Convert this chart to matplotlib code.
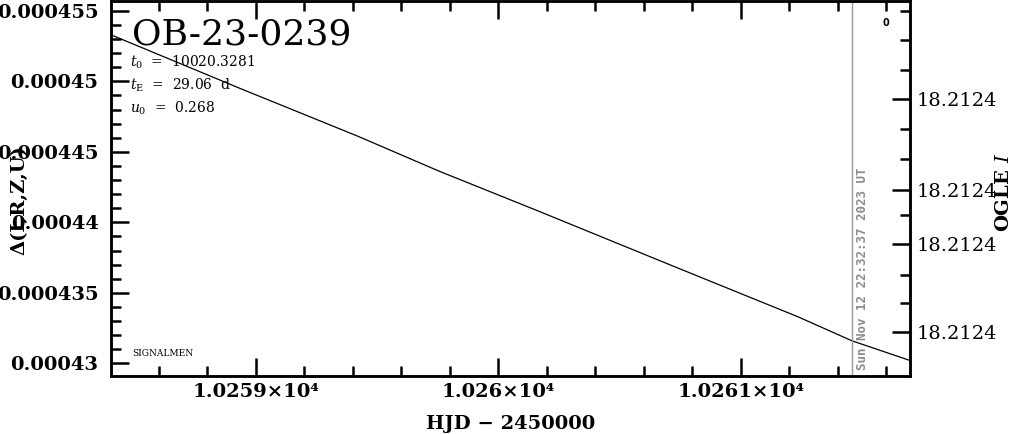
"""
plot.py
Light curve residual panel for OB-23-0239 (recreated)
"""

import numpy as np
import matplotlib
matplotlib.use("Agg")
import matplotlib.pyplot as plt
from matplotlib.ticker import MultipleLocator, FixedLocator

OUTPUT_FILE = "out.png"

# data
hjd   = [10258.403, 10258.935, 10259.422, 10259.760, 10260.151,
         10260.749, 10261.236, 10261.458, 10261.698]
delta = [0.0004533, 0.0004495, 0.0004461, 0.0004436, 0.0004409,
         0.0004367, 0.0004333, 0.0004316, 0.0004302]

x_ticks       = [10259, 10260, 10261]
x_tick_labels = ["1.0259×10⁴", "1.026×10⁴", "1.0261×10⁴"]
y_ticks       = [0.00043, 0.000435, 0.00044, 0.000445, 0.00045, 0.000455]
y_tick_labels = ["0.00043", "0.000435", "0.00044", "0.000445", "0.00045", "0.000455"]

# right-hand OGLE I axis (labels all round to the same value)
mag_major        = [0.738, 0.497, 0.351, 0.117]
mag_minor        = [0.973, 0.896, 0.816, 0.658, 0.579, 0.429, 0.269, 0.194]
mag_tick_labels  = ["18.2124", "18.2124", "18.2124", "18.2124"]

event_name = "OB-23-0239"
params     = [r"$t_0$  =  10020.3281", r"$t_{\rm E}$  =  29.06  d", r"$u_0$  =  0.268"]
now_hjd    = 10261.458
now_label  = "Sun Nov 12 22:32:37 2023 UT"

XLIM = (10258.403, 10261.698)
YLIM = (0.0004291, 0.0004557)

TICK_FONT = dict(family="DejaVu Serif", weight="bold", size=14)


def style_axis(ax):
    ax.tick_params(which="both", direction="in", width=1.8, colors="black")
    ax.tick_params(which="major", length=13)
    ax.tick_params(which="minor", length=7)
    for sp in ax.spines.values():
        sp.set_linewidth(1.8)


def main():
    plt.rcParams["mathtext.fontset"] = "dejavuserif"
    fig = plt.figure(figsize=(10.14, 4.34), dpi=100)
    ax = fig.add_axes([0.1095, 0.1336, 0.7880, 0.8641])

    ax.plot(hjd, delta, color="black", linewidth=0.9)
    ax.axvline(now_hjd, color="#999999", linewidth=1.0)

    ax.set_xlim(*XLIM)
    ax.set_ylim(*YLIM)
    ax.xaxis.set_major_locator(FixedLocator(x_ticks))
    ax.xaxis.set_minor_locator(MultipleLocator(0.2))
    ax.set_xticklabels(x_tick_labels, fontdict=TICK_FONT)
    ax.yaxis.set_major_locator(FixedLocator(y_ticks))
    ax.yaxis.set_minor_locator(MultipleLocator(0.000001))
    ax.set_yticklabels(y_tick_labels, fontdict=TICK_FONT)
    style_axis(ax)
    ax.tick_params(axis="x", which="both", top=True, pad=5)
    ax.tick_params(axis="y", which="both", right=False, pad=9)

    ax.set_xlabel("HJD − 2450000", fontdict=TICK_FONT, labelpad=10)
    ax.set_ylabel("Δ(I,R,Z,U)", fontdict=TICK_FONT)
    ax.yaxis.set_label_coords(-0.104, 0.47)

    # right axis: OGLE I magnitude
    ax2 = ax.twinx()
    ax2.set_ylim(0, 1)
    ax2.yaxis.set_major_locator(FixedLocator(mag_major))
    ax2.yaxis.set_minor_locator(FixedLocator(mag_minor))
    ax2.set_yticklabels(mag_tick_labels, fontdict=dict(family="DejaVu Serif", size=14))
    style_axis(ax2)
    ax2.tick_params(axis="y", which="both", left=False, pad=5)
    ax2.set_ylabel("OGLE $I$", fontdict=TICK_FONT)
    ax2.yaxis.set_label_coords(1.106, 0.49)

    # annotations
    ax.text(0.026, 0.955, event_name, transform=ax.transAxes, fontsize=26,
            family="DejaVu Serif", va="top", ha="left")
    for i, line in enumerate(params):
        ax.text(0.024, 0.837 - i * 0.062, line, transform=ax.transAxes,
                fontsize=10, family="DejaVu Serif", va="center", ha="left")
    ax.text(0.027, 0.06, "SIGNALMEN", transform=ax.transAxes, fontsize=6.5,
            family="DejaVu Serif", va="center", ha="left")
    ax.text(0.97, 0.941, "0", transform=ax.transAxes, fontsize=7,
            family="DejaVu Sans", weight="bold", va="center", ha="center")
    ax.text(now_hjd + 0.016, 0.015, now_label, transform=ax.get_xaxis_transform(),
            rotation=90, fontsize=9, family="DejaVu Sans Mono", weight="bold",
            color="#8c8c8c", va="bottom", ha="left")

    fig.savefig(OUTPUT_FILE, dpi=100)
    plt.close(fig)


if __name__ == "__main__":
    main()
